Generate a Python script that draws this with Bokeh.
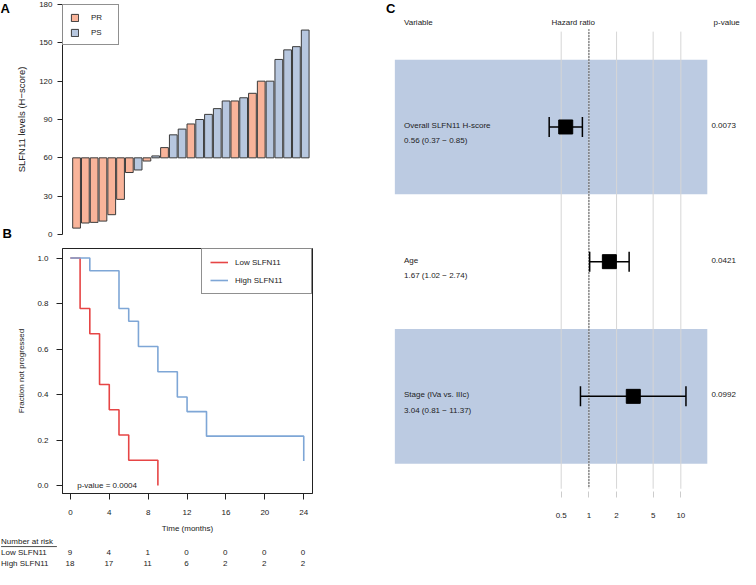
import math
from bokeh.plotting import figure
from bokeh.layouts import row, column
from bokeh.models import (Range1d, Legend, LegendItem, FixedTicker,
                          PrintfTickFormatter)
from bokeh.embed import file_html
from bokeh.resources import INLINE

# ---------------- DATA ----------------
# Panel A: waterfall of SLFN11 H-scores (sorted) and response group
h_scores = [5, 9, 9.5, 10.5, 15.5, 27.5, 48.5, 50.5, 57.5, 61.5, 68, 78, 82.5,
            86.5, 90, 94, 98.5, 104.5, 104.5, 107, 110.5, 120, 120, 137, 144.5,
            147, 160]
groups = (["PR"] * 7 +
          ["PS", "PR", "PS", "PR", "PS", "PS", "PR", "PS", "PS", "PS", "PS",
           "PR", "PS", "PR", "PR"] +
          ["PS"] * 5)
h_baseline = 60
a_ticks = [0, 30, 60, 90, 120, 150, 180]

# Panel B: Kaplan-Meier curves
low_t = [0, 1, 2, 3, 4, 5, 6, 9]
low_s = [1.0, 0.778, 0.667, 0.444, 0.333, 0.222, 0.111, 0.0]
high_t = [0, 2, 5, 6, 7, 9, 11, 12, 14, 24]
high_s = [1.0, 0.944, 0.778, 0.722, 0.611, 0.5, 0.389, 0.325, 0.217, 0.108]
km_ticks = [0, 4, 8, 12, 16, 20, 24]
surv_ticks = [0.0, 0.2, 0.4, 0.6, 0.8, 1.0]
risk_low = [9, 4, 1, 0, 0, 0, 0]
risk_high = [18, 17, 11, 6, 2, 2, 2]
risk_rows = ["Number at risk", "Low SLFN11", "High SLFN11"]
km_pvalue = "p-value = 0.0004"

# Panel C: forest plot
variables = ["Overall SLFN11 H-score", "Age", "Stage (IVa vs. IIIc)"]
hr = [0.56, 1.67, 3.04]
hr_lo = [0.37, 1.02, 0.81]
hr_hi = [0.85, 2.74, 11.37]
pvals = ["0.0073", "0.0421", "0.0992"]
hr_ticks = [0.5, 1, 2, 5, 10]
panel_letters = ["A", "B", "C"]

# ---------------- STYLE ----------------
FONT = "Liberation Sans"
TXT = "#222222"
PR_COL = "#F9B49A"
PS_COL = "#B7C7DF"
BAND_COL = "#BCCBE2"
RED = "#E64545"
BLUE = "#7EA6D6"
FS = "8px"
FONTV = {"value": FONT}


def base_fig(**kw):
    p = figure(output_backend="svg", toolbar_location=None, **kw)
    p.background_fill_color = "white"
    p.border_fill_color = "white"
    p.xgrid.visible = False
    p.ygrid.visible = False
    return p


def style_axis(ax):
    ax.major_label_text_font = FONT
    ax.major_label_text_font_size = FS
    ax.major_label_text_color = TXT
    ax.axis_label_text_font = FONT
    ax.axis_label_text_font_size = FS
    ax.axis_label_text_font_style = "normal"
    ax.axis_label_text_color = TXT
    ax.minor_tick_line_color = None
    ax.axis_line_color = "#222222"
    ax.major_tick_line_color = "#222222"


# ---------------- LETTER STRIP (A, B) ----------------
STRIP_W = 12
pS = base_fig(width=STRIP_W, height=535, x_range=Range1d(0, STRIP_W),
              y_range=Range1d(535, 0), x_axis_location=None,
              y_axis_location=None, min_border_left=0, min_border_right=0,
              min_border_top=0, min_border_bottom=0)
pS.outline_line_color = None
pS.text(x=[0, 2], y=[0, 243], text=panel_letters[:2], text_align="left",
        text_baseline="top", text_font_size="13px", text_font_style="bold",
        text_color="black", text_font=FONTV)

# ---------------- PANEL A ----------------
LEFT_W = 333 - STRIP_W
BORDER_L = 62 - STRIP_W
pA = base_fig(width=LEFT_W, height=243, x_range=Range1d(-0.6, 27.83),
              y_range=Range1d(0, 180), x_axis_location=None,
              min_border_left=BORDER_L, min_border_right=20, min_border_top=4,
              min_border_bottom=9)
pA.outline_line_color = None
idx = list(range(1, len(h_scores) + 1))
rend = {}
for grp, col in (("PR", PR_COL), ("PS", PS_COL)):
    xs = [i for i, g in zip(idx, groups) if g == grp]
    tops = [h for h, g in zip(h_scores, groups) if g == grp]
    rend[grp] = pA.vbar(x=xs, top=tops, bottom=h_baseline, width=0.88,
                        fill_color=col, line_color="#3a3a3a", line_width=1)
ya = pA.yaxis[0]
style_axis(ya)
ya.ticker = FixedTicker(ticks=a_ticks)
ya.major_tick_out = 5
ya.major_tick_in = 0
ya.major_label_standoff = 5
ya.axis_label = "SLFN11 levels (H\u2212score)"
ya.axis_label_text_font_size = "9.5px"
ya.axis_label_standoff = 9
legA = Legend(items=[LegendItem(label="PR", renderers=[rend["PR"]]),
                     LegendItem(label="PS", renderers=[rend["PS"]])],
              location="top_left", margin=0, padding=7, spacing=5,
              glyph_width=9, glyph_height=9, label_height=10,
              label_standoff=12, label_width=20,
              border_line_color="#222222", border_line_width=1,
              label_text_font=FONT, label_text_font_size=FS,
              label_text_color=TXT)
pA.add_layout(legA)

# ---------------- PANEL B ----------------
pB = base_fig(width=LEFT_W, height=292, x_range=Range1d(-0.81, 24.9),
              y_range=Range1d(-0.035, 1.042),
              min_border_left=BORDER_L, min_border_right=21, min_border_top=5,
              min_border_bottom=38)
pB.outline_line_color = "#222222"
pB.outline_line_width = 1
rl = pB.step(low_t, low_s, mode="after", line_color=RED, line_width=1.6)
rh = pB.step(high_t, high_s, mode="after", line_color=BLUE, line_width=1.6)
xb = pB.xaxis[0]
style_axis(xb)
xb.ticker = FixedTicker(ticks=km_ticks)
xb.major_tick_out = 6
xb.major_tick_in = 0
xb.major_label_standoff = 10
xb.axis_label = "Time (months)"
xb.axis_label_standoff = 6
yb = pB.yaxis[0]
style_axis(yb)
yb.ticker = FixedTicker(ticks=surv_ticks)
yb.formatter = PrintfTickFormatter(format="%.1f")
yb.major_tick_out = 6
yb.major_tick_in = 0
yb.major_label_standoff = 8
yb.axis_label = "Fraction not progressed"
yb.axis_label_standoff = 8
legB = Legend(items=[LegendItem(label="Low SLFN11", renderers=[rl]),
                     LegendItem(label="High SLFN11", renderers=[rh])],
              location="top_right", margin=0, padding=8, spacing=8,
              glyph_width=18, glyph_height=10, label_height=10,
              label_standoff=7, label_width=68,
              border_line_color="#222222", border_line_width=1,
              label_text_font=FONT, label_text_font_size=FS,
              label_text_color=TXT)
pB.add_layout(legB)
pB.text(x=[0.7], y=[0.0], text=[km_pvalue], text_font_size=FS,
        text_color=TXT, text_baseline="middle", text_align="left",
        text_font=FONTV)

# ---------------- PANEL C ----------------
rows_y = [1, 2, 3]
pC = base_fig(width=407, height=535, x_axis_type="log",
              x_range=Range1d(0.00167, 44.55), y_range=Range1d(3.751, 0.061),
              y_axis_location=None, min_border_left=0, min_border_right=0,
              min_border_top=0, min_border_bottom=38)
pC.outline_line_color = None
BAND_L, BAND_R = 0.00776, 19.4
band_rows = [r for r in rows_y if r % 2 == 1]
pC.quad(left=[BAND_L] * len(band_rows), right=[BAND_R] * len(band_rows),
        top=[r - 0.5 for r in band_rows], bottom=[r + 0.5 for r in band_rows],
        fill_color=BAND_COL, line_color=None)
GRID_TOP, GRID_BOT = 0.292, 3.686
pC.segment(x0=hr_ticks, y0=[GRID_TOP] * len(hr_ticks), x1=hr_ticks,
           y1=[GRID_BOT] * len(hr_ticks), line_color="#d6d6d6", line_width=1)
pC.segment(x0=[1], y0=[0.277], x1=[1], y1=[3.679], line_color="#222222",
           line_width=1.4, line_dash="1 2")
pC.segment(x0=hr_lo, y0=rows_y, x1=hr_hi, y1=rows_y, line_color="black",
           line_width=1.5)
pC.scatter(x=hr_lo + hr_hi, y=rows_y + rows_y, marker="dash",
           angle=math.pi / 2, size=20, line_color="black", line_width=1.5)
pC.scatter(x=hr, y=rows_y, marker="square", size=14, fill_color="black",
           line_color="black")
TXT_X, HR_X, P_X, PH_X = 0.00976, 0.676, 21.5, 22.7
pC.text(x=[TXT_X] * 3, y=[r - 0.012 for r in rows_y], text=variables,
        text_align="left", text_baseline="middle", text_font_size=FS,
        text_color=TXT, text_font=FONTV)
ci_txt = ["%.2f (%.2f \u2212  %.2f)" % (a, b, c) for a, b, c in zip(hr, hr_lo, hr_hi)]
pC.text(x=[TXT_X] * 3, y=[r + 0.103 for r in rows_y], text=ci_txt,
        text_align="left", text_baseline="middle", text_font_size=FS,
        text_color=TXT, text_font=FONTV)
pC.text(x=[P_X] * 3, y=[r - 0.012 for r in rows_y], text=pvals,
        text_align="left", text_baseline="middle", text_font_size=FS,
        text_color=TXT, text_font=FONTV)
pC.text(x=[TXT_X, HR_X, PH_X], y=[0.227] * 3,
        text=["Variable", "Hazard ratio", "p-value"],
        text_align=["left", "center", "left"], text_baseline="middle",
        text_font_size=FS, text_color=TXT, text_font=FONTV)
pC.text(x=[0.0062], y=[0.068], text=panel_letters[2:], text_align="left",
        text_baseline="top", text_font_size="13px", text_font_style="bold",
        text_color="black", text_font=FONTV)
xc = pC.xaxis[0]
style_axis(xc)
xc.ticker = FixedTicker(ticks=hr_ticks)
xc.major_label_overrides = {t: ("%g" % t) for t in hr_ticks}
xc.axis_line_color = None
xc.major_tick_in = 6
xc.major_tick_out = 0
xc.major_tick_line_color = "#cccccc"
xc.major_label_standoff = 15

# ---------------- RISK TABLE (full width strip) ----------------
pT = base_fig(width=740, height=34, x_range=Range1d(-7.16, 69.07),
              y_range=Range1d(2.52, -0.52), x_axis_location=None,
              y_axis_location=None, min_border_left=0, min_border_right=0,
              min_border_top=0, min_border_bottom=0)
pT.outline_line_color = None
pT.text(x=km_ticks, y=[1] * len(km_ticks), text=[str(v) for v in risk_low],
        text_align="center", text_baseline="middle", text_font_size=FS,
        text_color=TXT, text_font=FONTV)
pT.text(x=km_ticks, y=[2] * len(km_ticks), text=[str(v) for v in risk_high],
        text_align="center", text_baseline="middle", text_font_size=FS,
        text_color=TXT, text_font=FONTV)
pT.text(x=[-7.1] * 3, y=[0, 1, 2], text=risk_rows,
        text_align="left", text_baseline="middle", text_font_size=FS,
        text_color=TXT, text_font=FONTV)
pT.segment(x0=[-7.1], y0=[0.47], x1=[-1.35], y1=[0.47],
           line_color=TXT, line_width=0.8)

layout = column(row(pS, column(pA, pB), pC), pT)
open("out.html", "w").write(file_html(layout, INLINE))
